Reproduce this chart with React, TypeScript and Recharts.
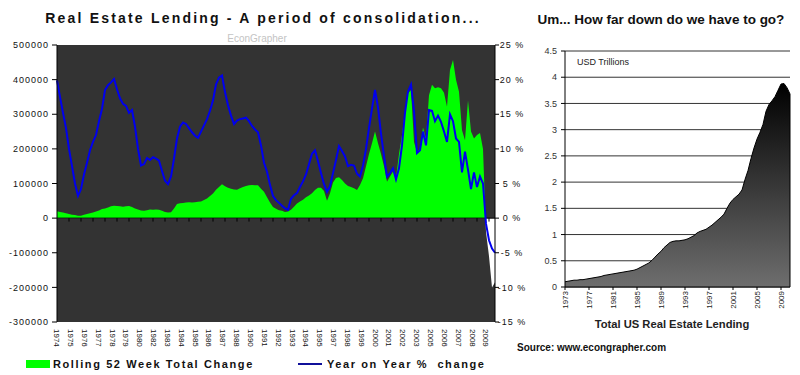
import React from "react";
import {
  ComposedChart,
  AreaChart,
  Area,
  Line,
  XAxis,
  YAxis,
  CartesianGrid,
  ReferenceLine,
} from "recharts";

const FONT = "Arial, 'Liberation Sans', sans-serif";

// ---- left chart: quarterly readings from 1974 ----
const START_YEAR = 1974;
const END_YEAR = 2010.5;

// rolling 52 week total change, in thousands
const rollingChangeK = [
  20, 18, 16, 14, 12, 10, 9, 7, 7, 10,
  12, 14, 16, 19, 22, 26, 28, 31, 34, 36,
  35, 34, 33, 34, 35, 32, 28, 25, 22, 21,
  23, 25, 24, 25, 24, 21, 18, 16, 17, 28,
  41, 43, 44, 45, 46, 45, 46, 47, 48, 52,
  57, 64, 71, 82, 90, 98, 92, 88, 85, 83,
  82, 86, 90, 93, 95, 96, 95, 95, 85, 76,
  60, 45, 32, 27, 23, 21, 18, 19, 24, 33,
  42, 48, 53, 60, 65, 72, 81, 88, 88, 78,
  50, 72, 103, 116, 118, 110, 100, 93, 90, 86,
  81, 96, 115, 150, 185, 216, 250, 216, 185, 150,
  105, 120, 135, 115, 185, 240, 310, 360, 370, 220,
  190, 200, 262, 230, 355, 385, 375, 378, 375, 362,
  322, 428, 457, 400, 365, 254, 225, 340, 250, 230,
  240, 246, 200, -40, -110, -200, -185,
];

// year on year % change
const yoyPct = [
  19.9, 17.5, 15.2, 13.0, 10.0, 7.5, 5.0, 3.2, 4.2, 6.3,
  8.0, 9.8, 11.0, 12.0, 14.0, 15.8, 18.5, 19.2, 19.6, 20.1,
  18.6, 17.3, 16.5, 16.2, 15.2, 15.6, 13.2, 10.0, 7.6, 7.8,
  8.7, 8.4, 8.8, 8.6, 8.3, 6.8, 5.4, 4.9, 6.0, 8.6,
  11.5, 13.2, 13.8, 13.6, 13.0, 12.4, 11.9, 11.6, 12.5, 13.4,
  14.3, 15.5, 17.0, 19.3, 20.3, 20.6, 18.2, 16.3, 14.8, 13.6,
  14.1, 14.3, 14.4, 14.5, 14.0, 13.3, 12.8, 12.4, 10.5, 8.0,
  6.7, 4.8, 3.2, 2.6, 2.2, 1.8, 1.4, 1.2, 2.8, 3.3,
  3.6, 4.5, 5.3, 6.3, 7.8, 9.3, 9.8, 8.2, 6.5, 4.9,
  3.8, 4.6, 6.5, 8.4, 10.4, 9.7, 8.9, 7.5, 7.7, 7.6,
  6.4, 6.0, 7.6, 10.0, 13.0, 15.8, 18.5, 16.0, 12.2, 9.0,
  6.0, 6.5, 7.2, 5.6, 7.2, 10.5, 15.2, 18.3, 19.3, 15.5,
  9.4, 9.8, 12.5, 10.5, 15.6, 15.5, 14.0, 14.8, 13.9, 12.5,
  11.0, 15.0, 14.0, 11.5, 11.0, 6.6, 9.6, 7.0, 4.2, 6.6,
  4.5, 6.0, 5.0, -0.8, -3.2, -4.4, -5.0,
];

const xLabels = [
  "1974", "1975", "1976", "1977", "1978", "1979", "1980", "1982",
  "1983", "1984", "1985", "1986", "1987", "1988", "1990", "1991",
  "1992", "1993", "1994", "1995", "1997", "1998", "1999", "2000",
  "2001", "2002", "2003", "2005", "2006", "2007", "2008", "2009",
];
const leftTicksK = [-300, -200, -100, 0, 100, 200, 300, 400, 500];
const rightTicksPct = [-15, -10, -5, 0, 5, 10, 15, 20, 25];

// ---- right chart: half-yearly, USD trillions from 1973 ----
const LENDING_START = 1973;
const lendingTrn = [
  0.10, 0.11, 0.12, 0.13, 0.13, 0.14, 0.14, 0.15, 0.16, 0.17,
  0.18, 0.19, 0.20, 0.22, 0.23, 0.24, 0.25, 0.26, 0.27, 0.28,
  0.29, 0.30, 0.31, 0.32, 0.34, 0.37, 0.40, 0.43, 0.46, 0.51,
  0.57, 0.63, 0.68, 0.75, 0.80, 0.85, 0.87, 0.88, 0.88, 0.89,
  0.90, 0.92, 0.95, 0.98, 1.03, 1.06, 1.08, 1.10, 1.14, 1.18,
  1.23, 1.28, 1.33, 1.39, 1.50, 1.60, 1.67, 1.72, 1.77, 1.85,
  2.05, 2.22, 2.45, 2.65, 2.82, 2.95, 3.10, 3.35, 3.48, 3.55,
  3.63, 3.75, 3.87, 3.88, 3.80, 3.68,
];
const lendingTicksY = [0, 0.5, 1, 1.5, 2, 2.5, 3, 3.5, 4, 4.5];
const lendingYears = [1973, 1977, 1981, 1985, 1989, 1993, 1997, 2001, 2005, 2009];

const leftData = rollingChangeK.map((v, i) => ({
  t: START_YEAR + i / 4,
  change: v,
  yoy: yoyPct[i],
}));
const rightData = lendingTrn.map((v, i) => ({ t: LENDING_START + i / 2, v }));

// labels every 60 weeks, tick marks every year
const labelTicks = xLabels.map((_, i) => START_YEAR + (i * 60) / 52);
const yearMarks: number[] = [];
for (let y = START_YEAR + 1; y <= END_YEAR; y++) yearMarks.push(y);

const maxK = Math.max(...rollingChangeK);
const minK = Math.min(...rollingChangeK);
const splitOff = maxK / (maxK - minK);

const LeftXTick = (props: any) => {
  const { x, y, payload, index } = props;
  let i = labelTicks.indexOf(payload.value);
  if (i < 0) i = index;
  return (
    <g transform={`translate(${x},${y + 7})`}>
      <text transform="rotate(90)" x={0} y={0} dy="0.35em" textAnchor="start" fontSize={8} fill="#111" fontFamily={FONT}>
        {xLabels[i]}
      </text>
    </g>
  );
};

const LeftYTick = (props: any) => {
  const { x, y, payload } = props;
  return (
    <text x={x + 1} y={y} dy="0.35em" textAnchor="end" fontSize={9} letterSpacing={1} fill="#111" fontFamily={FONT}>
      {String(payload.value * 1000)}
    </text>
  );
};

const RightYTick = (props: any) => {
  const { x, y, payload } = props;
  return (
    <text x={x + 12} y={y} dy="0.35em" textAnchor="middle" fontSize={9} letterSpacing={1} fill="#111" fontFamily={FONT}>
      {`${payload.value} %`}
    </text>
  );
};

const LendXTick = (props: any) => {
  const { x, y, payload } = props;
  return (
    <g transform={`translate(${x},${y})`}>
      <text transform="rotate(-90)" x={0} y={0} dy="0.35em" textAnchor="end" fontSize={8} fill="#222" fontFamily={FONT}>
        {payload.value}
      </text>
    </g>
  );
};

const LendYTick = (props: any) => {
  const { x, y, payload } = props;
  return (
    <text x={x} y={y} dy="0.35em" textAnchor="end" fontSize={9} fill="#333" fontFamily={FONT}>
      {payload.value}
    </text>
  );
};

export default function App() {
  return (
    <div
      style={{
        position: "absolute",
        left: 0,
        top: 0,
        width: 800,
        height: 375,
        background: "#fff",
        overflow: "hidden",
        fontFamily: FONT,
      }}
    >
      <div style={{ position: "absolute", left: 0, top: 0 }}>
        <ComposedChart width={545} height={375} data={leftData} margin={{ top: 45, right: 0, bottom: 23, left: 0 }}>
          <defs>
            <linearGradient id="splitFill" x1="0" y1="0" x2="0" y2="1">
              <stop offset={splitOff} stopColor="#00ff00" />
              <stop offset={splitOff} stopColor="#ffffff" />
            </linearGradient>
          </defs>
          <CartesianGrid yAxisId="left" horizontal={false} vertical={false} fill="#333333" fillOpacity={1} />
          <XAxis
            dataKey="t"
            type="number"
            domain={[START_YEAR, END_YEAR]}
            ticks={labelTicks}
            interval={0}
            tick={<LeftXTick />}
            axisLine={false}
            tickLine={false}
            tickSize={0}
            tickMargin={0}
            height={30}
          />
          <YAxis
            yAxisId="left"
            domain={[-300, 500]}
            ticks={leftTicksK}
            interval={0}
            width={57}
            tickSize={5}
            tickMargin={4}
            tick={<LeftYTick />}
            axisLine={{ stroke: "#000" }}
            tickLine={{ stroke: "#000" }}
          />
          <YAxis
            yAxisId="right"
            orientation="right"
            domain={[-15, 25]}
            ticks={rightTicksPct}
            interval={0}
            width={50}
            tickSize={4}
            tickMargin={1}
            tick={<RightYTick />}
            axisLine={{ stroke: "#000" }}
            tickLine={{ stroke: "#000" }}
          />
          <Area
            yAxisId="left"
            dataKey="change"
            type="linear"
            stroke="none"
            fill="url(#splitFill)"
            fillOpacity={1}
            isAnimationActive={false}
          />
          <ReferenceLine yAxisId="left" y={0} stroke="#000" strokeWidth={1} />
          {yearMarks.map((yr) => (
            <ReferenceLine
              key={yr}
              yAxisId="left"
              segment={[{ x: yr, y: 0 }, { x: yr, y: -10 }]}
              stroke="#000"
            />
          ))}
          <Line
            yAxisId="right"
            dataKey="yoy"
            type="linear"
            stroke="#0000ee"
            strokeWidth={2}
            dot={false}
            isAnimationActive={false}
          />
        </ComposedChart>
      </div>

      <div style={{ position: "absolute", left: 515, top: 0 }}>
        <AreaChart width={285} height={375} data={rightData} margin={{ top: 51, right: 10, bottom: 58, left: 0 }}>
          <defs>
            <linearGradient id="grayFill" x1="0" y1="0" x2="0" y2="1">
              <stop offset="0" stopColor="#000000" />
              <stop offset="1" stopColor="#6e6e6e" />
            </linearGradient>
          </defs>
          <CartesianGrid vertical={false} stroke="#333" />
          <XAxis
            dataKey="t"
            type="number"
            domain={[LENDING_START, END_YEAR]}
            ticks={lendingYears}
            interval={0}
            tick={<LendXTick />}
            tickSize={3}
            tickMargin={1}
            height={30}
            axisLine={{ stroke: "#000" }}
            tickLine={{ stroke: "#000" }}
          />
          <YAxis
            domain={[0, 4.5]}
            ticks={lendingTicksY}
            interval={0}
            width={50}
            tickSize={4}
            tickMargin={4}
            tick={<LendYTick />}
            axisLine={{ stroke: "#000" }}
            tickLine={{ stroke: "#000" }}
          />
          <Area
            dataKey="v"
            type="linear"
            stroke="#000"
            strokeWidth={1}
            fill="url(#grayFill)"
            fillOpacity={1}
            isAnimationActive={false}
          />
          <ReferenceLine
            segment={[
              { x: END_YEAR, y: 0 },
              { x: END_YEAR, y: lendingTrn[lendingTrn.length - 1] },
            ]}
            stroke="#000"
          />
        </AreaChart>
      </div>

      <svg width={800} height={375} style={{ position: "absolute", left: 0, top: 0, pointerEvents: "none" }}>
        <g fontFamily={FONT}>
          <text x={263} y={23} textAnchor="middle" fontSize={14} fontWeight="bold" letterSpacing={2.2} fill="#111">
            Real Estate Lending - A period of consolidation...
          </text>
          <text x={257} y={42} textAnchor="middle" fontSize={10} fill="#c4c4c4">
            EconGrapher
          </text>
          <text x={661} y={24} textAnchor="middle" fontSize={13.5} fontWeight="bold" fill="#111">
            Um... How far down do we have to go?
          </text>
          <text x={577} y={65} fontSize={9} fill="#222">
            USD Trillions
          </text>
          <text x={672} y={327.5} textAnchor="middle" fontSize={11.2} fontWeight="bold" fill="#222">
            Total US Real Estate Lending
          </text>
          <text x={517} y={351} fontSize={10} fontWeight="bold" fill="#111">
            Source: www.econgrapher.com
          </text>
          <rect x={26} y={360} width={24} height={8} fill="#00ff00" />
          <text x={53} y={368} fontSize={11} fontWeight="bold" letterSpacing={1.6} fill="#111">
            Rolling 52 Week Total Change
          </text>
          <line x1={298} y1={364} x2={322} y2={364} stroke="#10109a" strokeWidth={2} />
          <text x={327} y={368} fontSize={11} fontWeight="bold" letterSpacing={1.6} fill="#111" style={{ whiteSpace: "pre" }}>
            {"Year on Year %  change"}
          </text>
        </g>
      </svg>
    </div>
  );
}
